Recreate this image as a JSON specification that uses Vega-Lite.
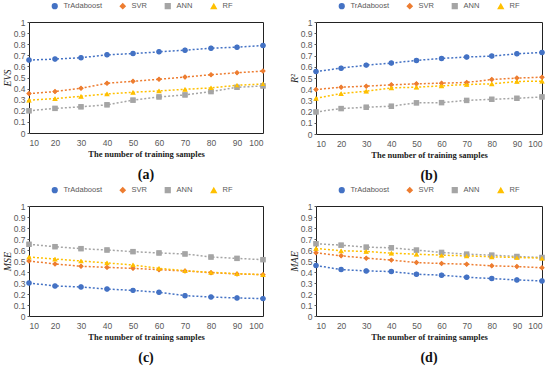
{
  "$schema": "https://vega.github.io/schema/vega-lite/v6.json",
  "padding": {"left": 1, "top": 1, "right": 0, "bottom": 0},
  "background": "white",
  "datasets": {
    "d": [
      {"m":"EVS","n":10,"model":"TrAdaboost","v":0.657},{"m":"EVS","n":20,"model":"TrAdaboost","v":0.666},{"m":"EVS","n":30,"model":"TrAdaboost","v":0.678},{"m":"EVS","n":40,"model":"TrAdaboost","v":0.704},{"m":"EVS","n":50,"model":"TrAdaboost","v":0.716},{"m":"EVS","n":60,"model":"TrAdaboost","v":0.731},{"m":"EVS","n":70,"model":"TrAdaboost","v":0.746},{"m":"EVS","n":80,"model":"TrAdaboost","v":0.764},{"m":"EVS","n":90,"model":"TrAdaboost","v":0.773},{"m":"EVS","n":100,"model":"TrAdaboost","v":0.788},
      {"m":"EVS","n":10,"model":"SVR","v":0.355},{"m":"EVS","n":20,"model":"SVR","v":0.373},{"m":"EVS","n":30,"model":"SVR","v":0.403},{"m":"EVS","n":40,"model":"SVR","v":0.448},{"m":"EVS","n":50,"model":"SVR","v":0.466},{"m":"EVS","n":60,"model":"SVR","v":0.484},{"m":"EVS","n":70,"model":"SVR","v":0.504},{"m":"EVS","n":80,"model":"SVR","v":0.525},{"m":"EVS","n":90,"model":"SVR","v":0.543},{"m":"EVS","n":100,"model":"SVR","v":0.558},
      {"m":"EVS","n":10,"model":"ANN","v":0.2},{"m":"EVS","n":20,"model":"ANN","v":0.222},{"m":"EVS","n":30,"model":"ANN","v":0.236},{"m":"EVS","n":40,"model":"ANN","v":0.254},{"m":"EVS","n":50,"model":"ANN","v":0.296},{"m":"EVS","n":60,"model":"ANN","v":0.325},{"m":"EVS","n":70,"model":"ANN","v":0.343},{"m":"EVS","n":80,"model":"ANN","v":0.373},{"m":"EVS","n":90,"model":"ANN","v":0.412},{"m":"EVS","n":100,"model":"ANN","v":0.424},
      {"m":"EVS","n":10,"model":"RF","v":0.296},{"m":"EVS","n":20,"model":"RF","v":0.31},{"m":"EVS","n":30,"model":"RF","v":0.331},{"m":"EVS","n":40,"model":"RF","v":0.352},{"m":"EVS","n":50,"model":"RF","v":0.367},{"m":"EVS","n":60,"model":"RF","v":0.379},{"m":"EVS","n":70,"model":"RF","v":0.394},{"m":"EVS","n":80,"model":"RF","v":0.406},{"m":"EVS","n":90,"model":"RF","v":0.43},{"m":"EVS","n":100,"model":"RF","v":0.442},
      {"m":"R2","n":10,"model":"TrAdaboost","v":0.558},{"m":"R2","n":20,"model":"TrAdaboost","v":0.588},{"m":"R2","n":30,"model":"TrAdaboost","v":0.615},{"m":"R2","n":40,"model":"TrAdaboost","v":0.633},{"m":"R2","n":50,"model":"TrAdaboost","v":0.657},{"m":"R2","n":60,"model":"TrAdaboost","v":0.675},{"m":"R2","n":70,"model":"TrAdaboost","v":0.687},{"m":"R2","n":80,"model":"TrAdaboost","v":0.696},{"m":"R2","n":90,"model":"TrAdaboost","v":0.716},{"m":"R2","n":100,"model":"TrAdaboost","v":0.728},
      {"m":"R2","n":10,"model":"SVR","v":0.397},{"m":"R2","n":20,"model":"SVR","v":0.418},{"m":"R2","n":30,"model":"SVR","v":0.427},{"m":"R2","n":40,"model":"SVR","v":0.439},{"m":"R2","n":50,"model":"SVR","v":0.448},{"m":"R2","n":60,"model":"SVR","v":0.454},{"m":"R2","n":70,"model":"SVR","v":0.46},{"m":"R2","n":80,"model":"SVR","v":0.487},{"m":"R2","n":90,"model":"SVR","v":0.499},{"m":"R2","n":100,"model":"SVR","v":0.507},
      {"m":"R2","n":10,"model":"ANN","v":0.197},{"m":"R2","n":20,"model":"ANN","v":0.227},{"m":"R2","n":30,"model":"ANN","v":0.239},{"m":"R2","n":40,"model":"ANN","v":0.248},{"m":"R2","n":50,"model":"ANN","v":0.278},{"m":"R2","n":60,"model":"ANN","v":0.28},{"m":"R2","n":70,"model":"ANN","v":0.3},{"m":"R2","n":80,"model":"ANN","v":0.31},{"m":"R2","n":90,"model":"ANN","v":0.319},{"m":"R2","n":100,"model":"ANN","v":0.331},
      {"m":"R2","n":10,"model":"RF","v":0.319},{"m":"R2","n":20,"model":"RF","v":0.361},{"m":"R2","n":30,"model":"RF","v":0.382},{"m":"R2","n":40,"model":"RF","v":0.412},{"m":"R2","n":50,"model":"RF","v":0.418},{"m":"R2","n":60,"model":"RF","v":0.43},{"m":"R2","n":70,"model":"RF","v":0.442},{"m":"R2","n":80,"model":"RF","v":0.448},{"m":"R2","n":90,"model":"RF","v":0.469},{"m":"R2","n":100,"model":"RF","v":0.472},
      {"m":"MSE","n":10,"model":"TrAdaboost","v":0.3},{"m":"MSE","n":20,"model":"TrAdaboost","v":0.273},{"m":"MSE","n":30,"model":"TrAdaboost","v":0.264},{"m":"MSE","n":40,"model":"TrAdaboost","v":0.245},{"m":"MSE","n":50,"model":"TrAdaboost","v":0.233},{"m":"MSE","n":60,"model":"TrAdaboost","v":0.215},{"m":"MSE","n":70,"model":"TrAdaboost","v":0.185},{"m":"MSE","n":80,"model":"TrAdaboost","v":0.173},{"m":"MSE","n":90,"model":"TrAdaboost","v":0.164},{"m":"MSE","n":100,"model":"TrAdaboost","v":0.158},
      {"m":"MSE","n":10,"model":"SVR","v":0.5},{"m":"MSE","n":20,"model":"SVR","v":0.473},{"m":"MSE","n":30,"model":"SVR","v":0.452},{"m":"MSE","n":40,"model":"SVR","v":0.442},{"m":"MSE","n":50,"model":"SVR","v":0.433},{"m":"MSE","n":60,"model":"SVR","v":0.421},{"m":"MSE","n":70,"model":"SVR","v":0.409},{"m":"MSE","n":80,"model":"SVR","v":0.394},{"m":"MSE","n":90,"model":"SVR","v":0.382},{"m":"MSE","n":100,"model":"SVR","v":0.376},
      {"m":"MSE","n":10,"model":"ANN","v":0.652},{"m":"MSE","n":20,"model":"ANN","v":0.63},{"m":"MSE","n":30,"model":"ANN","v":0.612},{"m":"MSE","n":40,"model":"ANN","v":0.6},{"m":"MSE","n":50,"model":"ANN","v":0.585},{"m":"MSE","n":60,"model":"ANN","v":0.573},{"m":"MSE","n":70,"model":"ANN","v":0.564},{"m":"MSE","n":80,"model":"ANN","v":0.536},{"m":"MSE","n":90,"model":"ANN","v":0.524},{"m":"MSE","n":100,"model":"ANN","v":0.512},
      {"m":"MSE","n":10,"model":"RF","v":0.536},{"m":"MSE","n":20,"model":"RF","v":0.518},{"m":"MSE","n":30,"model":"RF","v":0.5},{"m":"MSE","n":40,"model":"RF","v":0.482},{"m":"MSE","n":50,"model":"RF","v":0.464},{"m":"MSE","n":60,"model":"RF","v":0.433},{"m":"MSE","n":70,"model":"RF","v":0.412},{"m":"MSE","n":80,"model":"RF","v":0.397},{"m":"MSE","n":90,"model":"RF","v":0.385},{"m":"MSE","n":100,"model":"RF","v":0.376},
      {"m":"MAE","n":10,"model":"TrAdaboost","v":0.459},{"m":"MAE","n":20,"model":"TrAdaboost","v":0.422},{"m":"MAE","n":30,"model":"TrAdaboost","v":0.41},{"m":"MAE","n":40,"model":"TrAdaboost","v":0.404},{"m":"MAE","n":50,"model":"TrAdaboost","v":0.38},{"m":"MAE","n":60,"model":"TrAdaboost","v":0.371},{"m":"MAE","n":70,"model":"TrAdaboost","v":0.353},{"m":"MAE","n":80,"model":"TrAdaboost","v":0.34},{"m":"MAE","n":90,"model":"TrAdaboost","v":0.328},{"m":"MAE","n":100,"model":"TrAdaboost","v":0.319},
      {"m":"MAE","n":10,"model":"SVR","v":0.574},{"m":"MAE","n":20,"model":"SVR","v":0.547},{"m":"MAE","n":30,"model":"SVR","v":0.526},{"m":"MAE","n":40,"model":"SVR","v":0.508},{"m":"MAE","n":50,"model":"SVR","v":0.486},{"m":"MAE","n":60,"model":"SVR","v":0.477},{"m":"MAE","n":70,"model":"SVR","v":0.471},{"m":"MAE","n":80,"model":"SVR","v":0.456},{"m":"MAE","n":90,"model":"SVR","v":0.45},{"m":"MAE","n":100,"model":"SVR","v":0.438},
      {"m":"MAE","n":10,"model":"ANN","v":0.657},{"m":"MAE","n":20,"model":"ANN","v":0.644},{"m":"MAE","n":30,"model":"ANN","v":0.626},{"m":"MAE","n":40,"model":"ANN","v":0.62},{"m":"MAE","n":50,"model":"ANN","v":0.599},{"m":"MAE","n":60,"model":"ANN","v":0.578},{"m":"MAE","n":70,"model":"ANN","v":0.562},{"m":"MAE","n":80,"model":"ANN","v":0.553},{"m":"MAE","n":90,"model":"ANN","v":0.541},{"m":"MAE","n":100,"model":"ANN","v":0.532},
      {"m":"MAE","n":10,"model":"RF","v":0.614},{"m":"MAE","n":20,"model":"RF","v":0.593},{"m":"MAE","n":30,"model":"RF","v":0.587},{"m":"MAE","n":40,"model":"RF","v":0.571},{"m":"MAE","n":50,"model":"RF","v":0.562},{"m":"MAE","n":60,"model":"RF","v":0.553},{"m":"MAE","n":70,"model":"RF","v":0.547},{"m":"MAE","n":80,"model":"RF","v":0.538},{"m":"MAE","n":90,"model":"RF","v":0.532},{"m":"MAE","n":100,"model":"RF","v":0.526}
    ]
  },
  "data": {"name": "d"},
  "columns": 2,
  "spacing": {"column": 21, "row": 1},
  "concat": [
    {
      "title": {"text": "(a)"},
      "width": 234, "height": 111,
      "transform": [{"filter": "datum.m === 'EVS'"}],
      "encoding": {
        "x": {"field": "n", "type": "quantitative", "title": "The number of training samples", "scale": {"domain": [10, 100], "nice": false}, "axis": {"values": [10,20,30,40,50,60,70,80,90,100]}},
        "y": {"field": "v", "type": "quantitative", "title": "EVS", "scale": {"domain": [0, 1]}, "axis": {"values": [0,0.1,0.2,0.3,0.4,0.5,0.6,0.7,0.8,0.9,1]}},
        "color": {"field": "model", "type": "nominal", "scale": {"domain": ["TrAdaboost","SVR","ANN","RF"], "range": ["#4472C4","#ED7D31","#A5A5A5","#FFC000"]}, "legend": {"orient": "none", "legendX": 22, "legendY": -20, "direction": "horizontal", "title": null}},
        "shape": {"field": "model", "type": "nominal", "scale": {"domain": ["TrAdaboost","SVR","ANN","RF"], "range": ["circle","diamond","square","triangle-up"]}, "legend": {"orient": "none", "legendX": 22, "legendY": -20, "direction": "horizontal", "title": null}}
      },
      "layer": [
        {"mark": {"type": "line", "strokeDash": [2, 2], "strokeWidth": 1.5}},
        {"mark": {"type": "point", "filled": true, "size": 22, "opacity": 1}}
      ]
    },
    {
      "title": {"text": "(b)"},
      "width": 226, "height": 112,
      "transform": [{"filter": "datum.m === 'R2'"}],
      "encoding": {
        "x": {"field": "n", "type": "quantitative", "title": "The number of training samples", "scale": {"domain": [10, 100], "nice": false}, "axis": {"values": [10,20,30,40,50,60,70,80,90,100]}},
        "y": {"field": "v", "type": "quantitative", "title": "R²", "scale": {"domain": [0, 1]}, "axis": {"values": [0,0.1,0.2,0.3,0.4,0.5,0.6,0.7,0.8,0.9,1]}},
        "color": {"field": "model", "type": "nominal", "scale": {"domain": ["TrAdaboost","SVR","ANN","RF"], "range": ["#4472C4","#ED7D31","#A5A5A5","#FFC000"]}, "legend": {"orient": "none", "legendX": 22, "legendY": -20, "direction": "horizontal", "title": null}},
        "shape": {"field": "model", "type": "nominal", "scale": {"domain": ["TrAdaboost","SVR","ANN","RF"], "range": ["circle","diamond","square","triangle-up"]}, "legend": {"orient": "none", "legendX": 22, "legendY": -20, "direction": "horizontal", "title": null}}
      },
      "layer": [
        {"mark": {"type": "line", "strokeDash": [2, 2], "strokeWidth": 1.5}},
        {"mark": {"type": "point", "filled": true, "size": 22, "opacity": 1}}
      ]
    },
    {
      "title": {"text": "(c)"},
      "width": 234, "height": 110,
      "transform": [{"filter": "datum.m === 'MSE'"}],
      "encoding": {
        "x": {"field": "n", "type": "quantitative", "title": "The number of training samples", "scale": {"domain": [10, 100], "nice": false}, "axis": {"values": [10,20,30,40,50,60,70,80,90,100]}},
        "y": {"field": "v", "type": "quantitative", "title": "MSE", "scale": {"domain": [0, 1]}, "axis": {"values": [0,0.1,0.2,0.3,0.4,0.5,0.6,0.7,0.8,0.9,1]}},
        "color": {"field": "model", "type": "nominal", "scale": {"domain": ["TrAdaboost","SVR","ANN","RF"], "range": ["#4472C4","#ED7D31","#A5A5A5","#FFC000"]}, "legend": {"orient": "none", "legendX": 22, "legendY": -20, "direction": "horizontal", "title": null}},
        "shape": {"field": "model", "type": "nominal", "scale": {"domain": ["TrAdaboost","SVR","ANN","RF"], "range": ["circle","diamond","square","triangle-up"]}, "legend": {"orient": "none", "legendX": 22, "legendY": -20, "direction": "horizontal", "title": null}}
      },
      "layer": [
        {"mark": {"type": "line", "strokeDash": [2, 2], "strokeWidth": 1.5}},
        {"mark": {"type": "point", "filled": true, "size": 22, "opacity": 1}}
      ]
    },
    {
      "title": {"text": "(d)"},
      "width": 226, "height": 110,
      "transform": [{"filter": "datum.m === 'MAE'"}],
      "encoding": {
        "x": {"field": "n", "type": "quantitative", "title": "The number of training samples", "scale": {"domain": [10, 100], "nice": false}, "axis": {"values": [10,20,30,40,50,60,70,80,90,100]}},
        "y": {"field": "v", "type": "quantitative", "title": "MAE", "scale": {"domain": [0, 1]}, "axis": {"values": [0,0.1,0.2,0.3,0.4,0.5,0.6,0.7,0.8,0.9,1]}},
        "color": {"field": "model", "type": "nominal", "scale": {"domain": ["TrAdaboost","SVR","ANN","RF"], "range": ["#4472C4","#ED7D31","#A5A5A5","#FFC000"]}, "legend": {"orient": "none", "legendX": 22, "legendY": -20, "direction": "horizontal", "title": null}},
        "shape": {"field": "model", "type": "nominal", "scale": {"domain": ["TrAdaboost","SVR","ANN","RF"], "range": ["circle","diamond","square","triangle-up"]}, "legend": {"orient": "none", "legendX": 22, "legendY": -20, "direction": "horizontal", "title": null}}
      },
      "layer": [
        {"mark": {"type": "line", "strokeDash": [2, 2], "strokeWidth": 1.5}},
        {"mark": {"type": "point", "filled": true, "size": 22, "opacity": 1}}
      ]
    }
  ],
  "resolve": {"scale": {"color": "independent", "shape": "independent", "x": "independent", "y": "independent"}, "legend": {"color": "independent", "shape": "independent"}},
  "config": {
    "font": "Liberation Sans",
    "view": {"stroke": "#222222", "strokeWidth": 1},
    "title": {"orient": "bottom", "anchor": "middle", "font": "Liberation Serif", "fontWeight": "bold", "fontSize": 14, "color": "#111111", "offset": 10},
    "axis": {"grid": false, "domain": false, "labelFont": "Liberation Sans", "labelFontSize": 8.5, "labelColor": "#595959", "titleColor": "#222222"},
    "axisX": {"ticks": false, "labelPadding": 5, "titleFont": "Liberation Serif", "titleFontWeight": "bold", "titleFontSize": 8.5, "titlePadding": 3},
    "axisY": {"format": "~g", "tickSize": 2, "tickColor": "#555555", "labelPadding": 2, "titleFont": "Liberation Serif", "titleFontStyle": "italic", "titleFontWeight": "normal", "titleFontSize": 10, "titlePadding": 1},
    "legend": {"labelFont": "Liberation Sans", "labelFontSize": 7.5, "labelColor": "#595959", "symbolSize": 22, "columnPadding": 15, "symbolStrokeWidth": 1.5, "labelOffset": 5}
  }
}
